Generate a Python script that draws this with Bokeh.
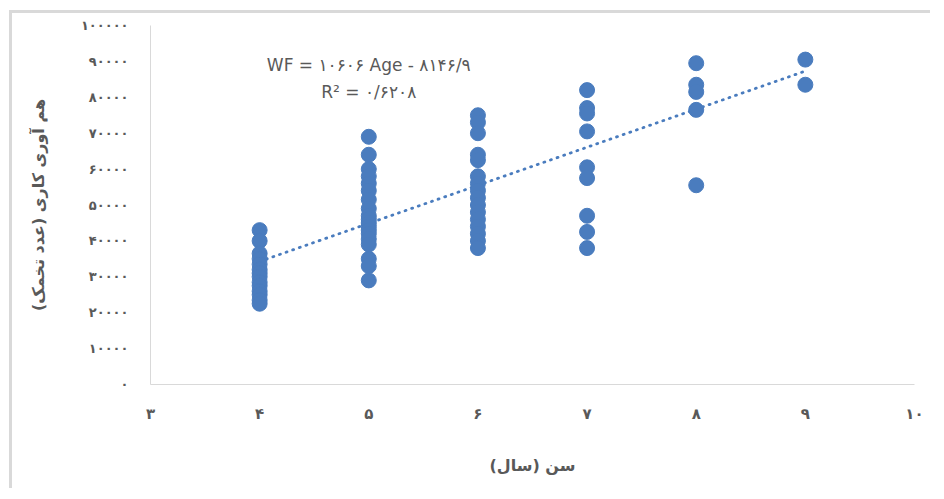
from bokeh.plotting import figure
from bokeh.models import Label, FixedTicker
from bokeh.embed import file_html
from bokeh.resources import INLINE

# ---- data ----
age_4 = [43000, 40000, 36500, 35000, 33500, 32000, 31000, 30000, 28500, 27500, 26000, 25000, 23500, 22500]
age_5 = [69000, 64000, 60000, 58000, 56000, 54000, 51500, 49000, 47000, 46000, 45000, 44000, 43000,
         42000, 40500, 39000, 35000, 33000, 29000]
age_6 = [75000, 73000, 70000, 64000, 62500, 58000, 56000, 54000, 52000, 50000, 48000, 46000, 44000,
         42000, 40000, 38000]
age_7 = [82000, 77000, 75500, 70500, 60500, 57500, 47000, 42500, 38000]
age_8 = [89500, 83500, 81500, 76500, 55500]
age_9 = [90500, 83500]
ages = [4, 5, 6, 7, 8, 9]
fecundity = [age_4, age_5, age_6, age_7, age_8, age_9]

slope = 10606
intercept = -8146.9
trend_x = [4, 9]

x_ticks = [3, 4, 5, 6, 7, 8, 9, 10]
x_tick_labels = ["۳", "۴", "۵", "۶", "۷", "۸", "۹", "۱۰"]
y_ticks = [0, 10000, 20000, 30000, 40000, 50000, 60000, 70000, 80000, 90000, 100000]
y_tick_labels = ["۰", "۱۰۰۰۰", "۲۰۰۰۰", "۳۰۰۰۰", "۴۰۰۰۰", "۵۰۰۰۰", "۶۰۰۰۰", "۷۰۰۰۰", "۸۰۰۰۰", "۹۰۰۰۰", "۱۰۰۰۰۰"]

eq_text = "WF = ۱۰۶۰۶ Age - ۸۱۴۶/۹"
r2_text = "R² = ۰/۶۲۰۸"
x_title = "سن (سال)\u200f"
y_title = "هم آوری کاری (عدد تخمک)\u200f"

xs, ys = [], []
for a, vals in zip(ages, fecundity):
    for v in vals:
        xs.append(a)
        ys.append(v)

BLUE = "#4A7CBE"
GRAY = "#595959"
FONT = "DejaVu Sans"

p = figure(width=921, height=478, x_range=(3, 10), y_range=(0, 100000),
           output_backend="svg", toolbar_location=None,
           min_border_left=138, min_border_right=19, min_border_top=12, min_border_bottom=107)
p.styles = {"border-left": "3px solid #d9d9d9", "border-top": "3px solid #d9d9d9"}
p.margin = (10, 0, 0, 9)

p.outline_line_color = None
p.xgrid.visible = False
p.ygrid.visible = False
p.background_fill_color = "white"
p.border_fill_color = "white"

# trend line
trend_y = [slope * x + intercept for x in trend_x]
p.line(trend_x, trend_y, line_color=BLUE, line_width=2.8, line_dash="1 6", line_cap="round")

p.scatter(xs, ys, size=15, fill_color=BLUE, line_color=BLUE)

# axes
p.xaxis.ticker = FixedTicker(ticks=x_ticks)
p.xaxis.major_label_overrides = dict(zip(x_ticks, x_tick_labels))
p.yaxis.ticker = FixedTicker(ticks=y_ticks)
p.yaxis.major_label_overrides = dict(zip(y_ticks, y_tick_labels))
for ax in (p.xaxis, p.yaxis):
    ax.axis_line_color = "#d9d9d9"
    ax.axis_line_width = 1
    ax.major_tick_line_color = None
    ax.minor_tick_line_color = None
    ax.major_tick_out = 0
    ax.major_tick_in = 0
    ax.major_label_text_color = GRAY
    ax.major_label_text_font = FONT
    ax.major_label_text_font_style = "bold"
    ax.axis_label_text_color = GRAY
    ax.axis_label_text_font = FONT
    ax.axis_label_text_font_style = "bold"
    ax.axis_label_text_font_size = "16px"

p.xaxis.major_label_text_font_size = "15px"
p.yaxis.major_label_text_font_size = "13px"
p.xaxis.major_label_standoff = 20
p.yaxis.major_label_standoff = 22
p.xaxis.axis_label = x_title
p.yaxis.axis_label = y_title
p.xaxis.axis_label_standoff = 30
p.yaxis.axis_label_standoff = 30

# equation labels
p.add_layout(Label(x=5, y=88900, text=eq_text, text_align="center", text_baseline="middle",
                   text_font=FONT, text_font_size="17px", text_color=GRAY))
p.add_layout(Label(x=5, y=81400, text=r2_text, text_align="center", text_baseline="middle",
                   text_font=FONT, text_font_size="17px", text_color=GRAY))

open("out.html", "w").write(file_html(p, INLINE))
